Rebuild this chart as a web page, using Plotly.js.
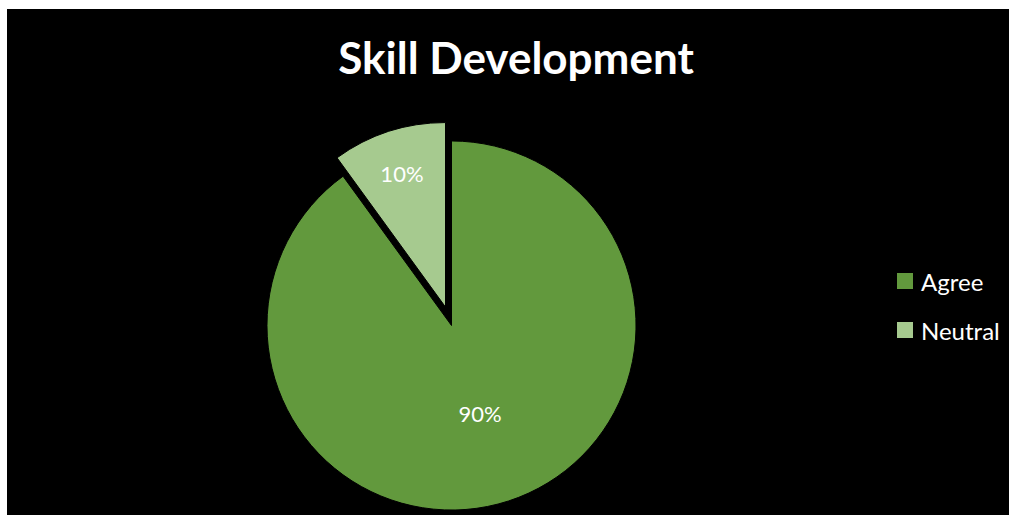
<!DOCTYPE html>
<html>
<head>
<meta charset="utf-8">
<script src="https://cdn.plot.ly/plotly-3.0.1.min.js"></script>
<style>
  html, body { margin: 0; padding: 0; background: #ffffff; overflow: hidden; width: 1009px; height: 515px; }
  #frame { position: absolute; left: 7px; top: 9px; width: 1002px; height: 506px; background: #000000; overflow: hidden; }
  #chart { width: 1002px; height: 600px; }
</style>
</head>
<body>
<div id="frame"><div id="chart"></div></div>
<script>
// ---- data ----
const labels = ["Agree", "Neutral"];
const values = [90, 10];
const sliceColors = ["#62993d", "#a6ca8f"];
const pulls = [0, 0.105];
const chartTitle = "Skill Development";

// ---- layout helpers (div is 1002 x 600, margins 0) ----
const W = 1002, H = 600;
const px = x => x / W;
const py = y => 1 - y / H;

const FONT = "Lato, 'Open Sans', 'DejaVu Sans', sans-serif";

const trace = {
  type: "pie",
  labels: labels,
  values: values,
  sort: false,
  direction: "clockwise",
  rotation: 0,
  pull: pulls,
  marker: { colors: sliceColors, line: { color: "#000000", width: 1 } },
  textinfo: "percent",
  texttemplate: "%{percent:.0%}",
  textposition: "inside",
  insidetextorientation: "horizontal",
  insidetextfont: { family: FONT, size: 22, color: "#ffffff" },
  hoverinfo: "label+percent",
  showlegend: false,
  domain: { x: [px(240.6), px(648.4)], y: [py(533), py(100)] }
};

// manual legend built from labels/colors
const legendX = 890, legendY0 = 264, legendGap = 49, sq = 16;
const shapes = [], annotations = [];
labels.forEach((lab, i) => {
  const top = legendY0 + i * legendGap;
  shapes.push({
    type: "rect", xref: "paper", yref: "paper",
    x0: px(legendX), x1: px(legendX + sq), y0: py(top + sq), y1: py(top),
    fillcolor: sliceColors[i], line: { width: 0 }
  });
  annotations.push({
    xref: "paper", yref: "paper", x: px(legendX + sq + 6), y: py(top + sq / 2),
    xanchor: "left", yanchor: "middle", showarrow: false,
    text: lab, font: { family: FONT, size: 24, color: "#ffffff" }
  });
});

const layout = {
  width: W, height: H,
  margin: { l: 0, r: 0, t: 0, b: 0 },
  paper_bgcolor: "#000000",
  plot_bgcolor: "#000000",
  title: {
    text: "<b>" + chartTitle + "</b>",
    font: { family: FONT, size: 44, color: "#ffffff" },
    x: px(509), xanchor: "center",
    y: py(49.5), yanchor: "middle", yref: "container"
  },
  shapes: shapes,
  annotations: annotations,
  showlegend: false
};

Plotly.newPlot("chart", [trace], layout, { displayModeBar: false, staticPlot: true });
</script>
</body>
</html>
